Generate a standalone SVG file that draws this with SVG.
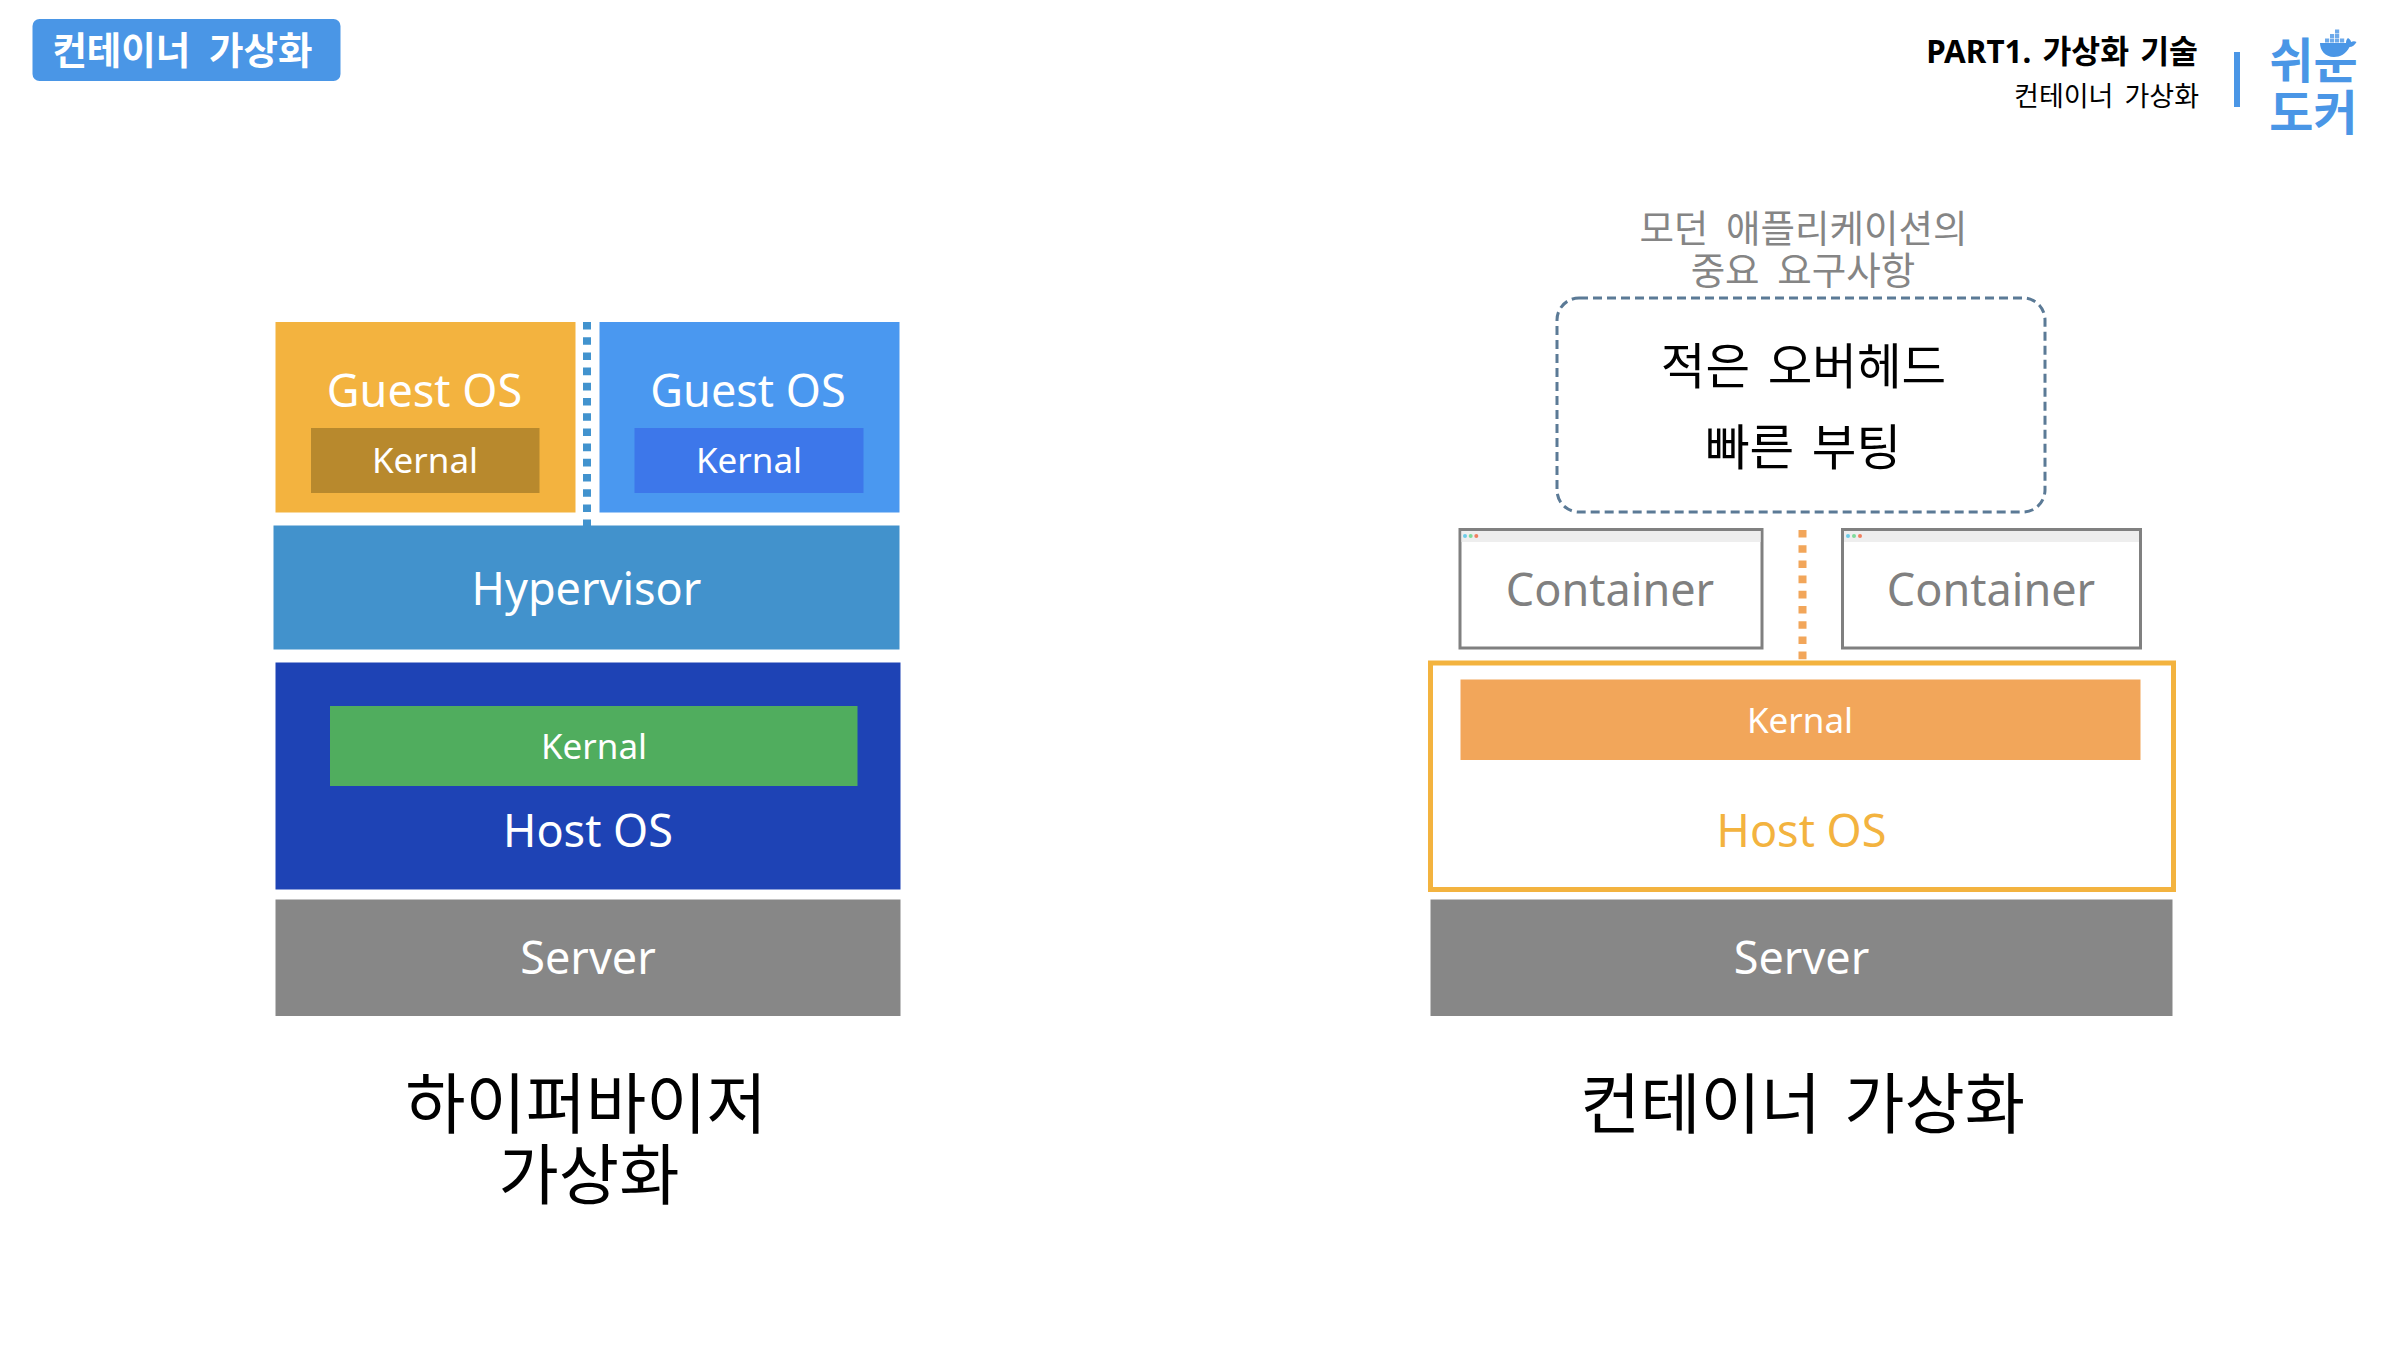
<svg xmlns="http://www.w3.org/2000/svg" width="2388" height="1354" viewBox="0 0 2388 1354">
<style>
text{font-family:"Noto Sans","Noto Sans CJK KR",sans-serif;text-anchor:middle}
.w{fill:#fff}
.l{font-size:45px}
.k{font-size:35px}
.h{font-size:65.5px;fill:#000;word-spacing:6px}
.g{font-size:37.5px;fill:#858585;word-spacing:8px}
.b{font-size:48.5px;fill:#000;word-spacing:5px}
.c{fill:#fff;stroke:#808080;stroke-width:3}
.tb{fill:#eee}
.d1{fill:#6ccbe8}.d2{fill:#7edb9a}.d3{fill:#f08060}
.blue{fill:#4a96e6}
.dash{fill:none;stroke-width:8;stroke-dasharray:7.6 7.6}
</style>
<rect width="2388" height="1354" fill="#fff"/>
<g id="connectors">
<line class="dash" x1="587" y1="322" x2="587" y2="526" stroke="#4293ce"/>
<line class="dash" x1="1802.5" y1="530" x2="1802.5" y2="660" stroke="#f2a65a"/>
</g>
<g id="badge">
<rect x="32.5" y="19" width="308" height="62" rx="7" class="blue"/>
<text x="182.5" y="64" class="w" style="font-size:37.5px;font-weight:700;word-spacing:9px">컨테이너 가상화</text>
</g>
<g id="header">
<text x="2198" y="63" style="font-size:31.4px;font-weight:700;text-anchor:end;word-spacing:3px">PART1. 가상화 기술</text>
<text x="2199" y="106" style="font-size:27px;text-anchor:end;word-spacing:4px">컨테이너 가상화</text>
<rect x="2234" y="52" width="6" height="55" class="blue"/>
</g>
<g id="logo">
<text x="2313.5" y="78" class="blue" style="font-size:48px;font-weight:700">쉬운</text>
<text x="2313.5" y="130" class="blue" style="font-size:48px;font-weight:700">도커</text>
<rect x="2317" y="26" width="44" height="31" fill="#fff"/>
<path class="blue" d="M2320 43H2346C2346 40 2347 39 2348 38C2350 39 2351 41 2351 42C2353 41 2355 41 2356.5 42C2355 45 2352 47 2349.5 47C2346 54 2340 57 2334 57C2325 57 2320 50 2320 43Z"/>
<g class="blue" opacity=".8">
<rect x="2325" y="38.5" width="4.2" height="4"/><rect x="2330" y="38.5" width="4.2" height="4"/><rect x="2335" y="38.5" width="4.2" height="4"/><rect x="2340" y="38.5" width="4.2" height="4"/>
<rect x="2330" y="34" width="4.2" height="4"/><rect x="2335" y="34" width="4.2" height="4"/><rect x="2335" y="29.5" width="4.2" height="4"/>
</g>
</g>
<g id="guest-os-1">
<rect x="275.5" y="322" width="300" height="190.5" fill="#f3b33f"/>
<text x="424.5" y="407" class="l w">Guest OS</text>
</g>
<g id="guest-kernal-1">
<rect x="311" y="428" width="228.5" height="65" fill="#b8892d"/>
<text x="425" y="473" class="k w">Kernal</text>
</g>
<g id="guest-os-2">
<rect x="599.5" y="322" width="300" height="190.5" fill="#4a98f0"/>
<text x="748" y="407" class="l w">Guest OS</text>
</g>
<g id="guest-kernal-2">
<rect x="634.5" y="428" width="229" height="65" fill="#3d77ea"/>
<text x="749" y="473" class="k w">Kernal</text>
</g>
<g id="hypervisor">
<rect x="273.5" y="525.5" width="626" height="124" fill="#4292cc"/>
<text x="586.5" y="605" class="l w">Hypervisor</text>
</g>
<g id="host-os-left">
<rect x="275.5" y="662.5" width="625" height="227" fill="#1e43b5"/>
<text x="588" y="847" class="l w">Host OS</text>
</g>
<g id="host-kernal-left">
<rect x="330" y="706" width="527.5" height="80" fill="#50ad5e"/>
<text x="594" y="758.5" class="k w">Kernal</text>
</g>
<g id="server-left">
<rect x="275.5" y="899.5" width="625" height="116.5" fill="#878787"/>
<text x="588" y="974" class="l w">Server</text>
</g>
<g id="title-left">
<text x="586" y="1128" class="h">하이퍼바이저</text>
<text x="589" y="1199" class="h">가상화</text>
</g>
<g id="requirements">
<text x="1803.5" y="242" class="g">모던 애플리케이션의</text>
<text x="1803" y="284" class="g">중요 요구사항</text>
<rect x="1557" y="298" width="488" height="214" rx="22" fill="none" stroke="#5b7a96" stroke-width="3" stroke-dasharray="9 5"/>
<text x="1803.5" y="384" class="b">적은 오버헤드</text>
<text x="1803" y="465" class="b">빠른 부팅</text>
</g>
<g id="container-1">
<rect x="1460" y="529.5" width="302" height="118.5" class="c"/>
<rect x="1461.5" y="531" width="299" height="11" class="tb"/>
<circle cx="1465" cy="536" r="2" class="d1"/><circle cx="1470.7" cy="536" r="2" class="d2"/><circle cx="1476.3" cy="536" r="2" class="d3"/>
<text x="1610" y="606" class="l" fill="#808080">Container</text>
</g>
<g id="container-2">
<rect x="1842.5" y="529.5" width="298" height="118.5" class="c"/>
<rect x="1844" y="531" width="295" height="11" class="tb"/>
<circle cx="1848" cy="536" r="2" class="d1"/><circle cx="1854" cy="536" r="2" class="d2"/><circle cx="1860" cy="536" r="2" class="d3"/>
<text x="1991" y="606" class="l" fill="#808080">Container</text>
</g>
<g id="host-os-right">
<rect x="1430.5" y="663" width="743" height="226.5" fill="#fff" stroke="#f3b33f" stroke-width="5"/>
<text x="1801.5" y="847" class="l" fill="#f3b33f">Host OS</text>
</g>
<g id="host-kernal-right">
<rect x="1460.5" y="679.5" width="680" height="80.5" fill="#f2a65a"/>
<text x="1800" y="733" class="k w">Kernal</text>
</g>
<g id="server-right">
<rect x="1430.5" y="899.5" width="742" height="116.5" fill="#878787"/>
<text x="1801.5" y="974" class="l w">Server</text>
</g>
<g id="title-right">
<text x="1802.5" y="1128" class="h">컨테이너 가상화</text>
</g>
</svg>
